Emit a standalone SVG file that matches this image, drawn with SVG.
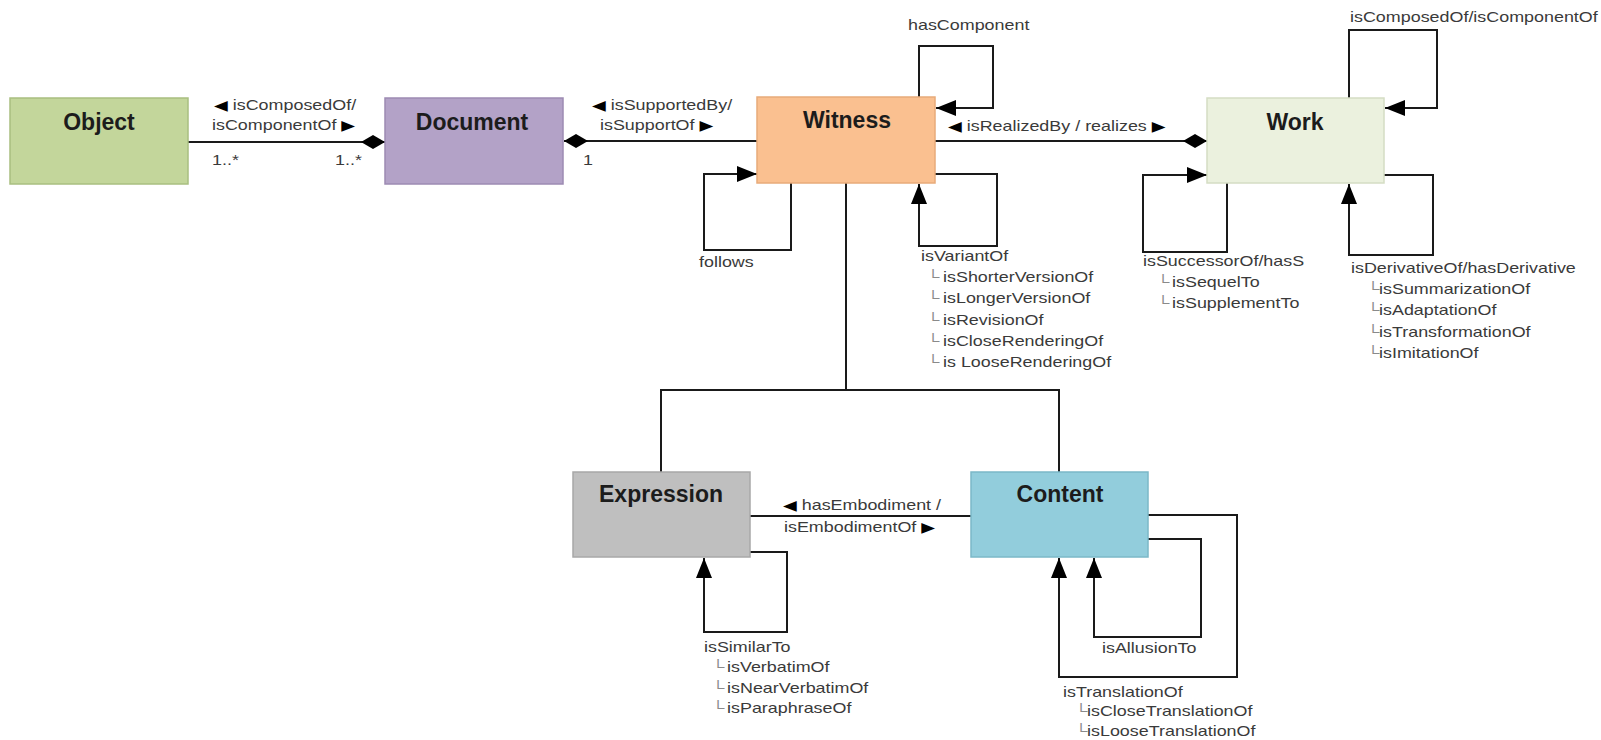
<svg xmlns="http://www.w3.org/2000/svg" width="1601" height="740" viewBox="0 0 1601 740">
<style>
.box{stroke-width:1.5}
.title{font-family:"Liberation Sans",Arial,sans-serif;font-weight:bold;font-size:23px;fill:#1c1c1c;text-anchor:middle}
.lbl{font-family:"Liberation Sans",Arial,"DejaVu Sans",sans-serif;font-size:14px;fill:#3a3a3a}
.tri{fill:#000}
.cor{fill:#8a8a8a}
.c{fill:none;stroke:#1a1a1a;stroke-width:2}
</style>
<defs>
<marker id="arr" markerUnits="userSpaceOnUse" markerWidth="22" markerHeight="18" refX="20" refY="8" orient="auto">
<path d="M0,0 L20,8 L0,16 z" fill="#000"/>
</marker>
<marker id="dia" markerUnits="userSpaceOnUse" markerWidth="26" markerHeight="16" refX="24" refY="8" orient="auto">
<path d="M0,8 L12,1 L24,8 L12,15 z" fill="#000"/>
</marker>
</defs>
<rect width="1601" height="740" fill="#fff"/>

<g id="connectors">
<path class="c" d="M188,142 H385" marker-end="url(#dia)"/>
<path class="c" d="M757,141 H564" marker-end="url(#dia)"/>
<path class="c" d="M935,141 H1207" marker-end="url(#dia)"/>
<path class="c" d="M919,97 V46 H993 V108 H936" marker-end="url(#arr)"/>
<path class="c" d="M791,183 V250 H704 V174 H757" marker-end="url(#arr)"/>
<path class="c" d="M935,174 H997 V246 H919 V184" marker-end="url(#arr)"/>
<path class="c" d="M846,183 V390"/>
<path class="c" d="M661,472 V390 H1059 V472"/>
<path class="c" d="M750,516 H971"/>
<path class="c" d="M750,552 H787 V632 H704 V558" marker-end="url(#arr)"/>
<path class="c" d="M1148,539 H1201 V637 H1094 V558" marker-end="url(#arr)"/>
<path class="c" d="M1148,515 H1237 V677 H1059 V558" marker-end="url(#arr)"/>
<path class="c" d="M1349,98 V30 H1437 V108 H1385" marker-end="url(#arr)"/>
<path class="c" d="M1227,183 V252 H1143 V175 H1207" marker-end="url(#arr)"/>
<path class="c" d="M1384,175 H1433 V255 H1349 V184" marker-end="url(#arr)"/>
</g>

<g id="object">
<rect class="box" x="10" y="98" width="178" height="86" fill="#c3d69b" stroke="#a9bf80"/>
<text class="title" x="99" y="130">Object</text>
</g>
<g id="document">
<rect class="box" x="385" y="98" width="178" height="86" fill="#b3a2c7" stroke="#9d8bb3"/>
<text class="title" x="472" y="130">Document</text>
</g>
<g id="witness">
<rect class="box" x="757" y="97" width="178" height="86" fill="#fac090" stroke="#e8ab7a"/>
<text class="title" x="847" y="128">Witness</text>
</g>
<g id="work">
<rect class="box" x="1207" y="98" width="177" height="85" fill="#ebf1de" stroke="#d5ddc4"/>
<text class="title" x="1295" y="130">Work</text>
</g>
<g id="expression">
<rect class="box" x="573" y="472" width="177" height="85" fill="#bfbfbf" stroke="#a8a8a8"/>
<text class="title" x="661" y="502">Expression</text>
</g>
<g id="content">
<rect class="box" x="971" y="472" width="177" height="85" fill="#92cddc" stroke="#7bb8c8"/>
<text class="title" x="1060" y="502">Content</text>
</g>

<g id="labels">
<text class="lbl" transform="translate(214,110) scale(1.28,1)"><tspan class="tri">◀</tspan> isComposedOf/</text>
<text class="lbl" transform="translate(212,130) scale(1.28,1)">isComponentOf <tspan class="tri">▶</tspan></text>
<text class="lbl" transform="translate(212,165) scale(1.28,1)">1..*</text>
<text class="lbl" transform="translate(335,165) scale(1.28,1)">1..*</text>
<text class="lbl" transform="translate(592,110) scale(1.28,1)"><tspan class="tri">◀</tspan> isSupportedBy/</text>
<text class="lbl" transform="translate(600,130) scale(1.28,1)">isSupportOf <tspan class="tri">▶</tspan></text>
<text class="lbl" transform="translate(583,165) scale(1.28,1)">1</text>
<text class="lbl" transform="translate(908,30) scale(1.28,1)">hasComponent</text>
<text class="lbl" transform="translate(948,131) scale(1.28,1)"><tspan class="tri">◀</tspan> isRealizedBy / realizes <tspan class="tri">▶</tspan></text>
<text class="lbl" transform="translate(1350,22) scale(1.28,1)">isComposedOf/isComponentOf</text>
<text class="lbl" transform="translate(699,267) scale(1.28,1)">follows</text>
<text class="lbl" transform="translate(921,261) scale(1.28,1)"><tspan x="0" y="0">isVariantOf</tspan><tspan class="cor" x="4.7" y="21.2">└</tspan><tspan x="17.2">isShorterVersionOf</tspan><tspan class="cor" x="4.7" y="42.4">└</tspan><tspan x="17.2">isLongerVersionOf</tspan><tspan class="cor" x="4.7" y="63.6">└</tspan><tspan x="17.2">isRevisionOf</tspan><tspan class="cor" x="4.7" y="84.8">└</tspan><tspan x="17.2">isCloseRenderingOf</tspan><tspan class="cor" x="4.7" y="106">└</tspan><tspan x="17.2">is LooseRenderingOf</tspan></text>
<text class="lbl" transform="translate(1143,266) scale(1.28,1)"><tspan x="0" y="0">isSuccessorOf/hasS</tspan><tspan class="cor" x="10.9" y="21">└</tspan><tspan x="22.7">isSequelTo</tspan><tspan class="cor" x="10.9" y="42">└</tspan><tspan x="22.7">isSupplementTo</tspan></text>
<text class="lbl" transform="translate(1351,273) scale(1.28,1)"><tspan x="0" y="0">isDerivativeOf/hasDerivative</tspan><tspan class="cor" x="12.5" y="21.2">└</tspan><tspan x="21.9">isSummarizationOf</tspan><tspan class="cor" x="12.5" y="42.4">└</tspan><tspan x="21.9">isAdaptationOf</tspan><tspan class="cor" x="12.5" y="63.6">└</tspan><tspan x="21.9">isTransformationOf</tspan><tspan class="cor" x="12.5" y="84.8">└</tspan><tspan x="21.9">isImitationOf</tspan></text>
<text class="lbl" transform="translate(783,510) scale(1.28,1)"><tspan class="tri">◀</tspan> hasEmbodiment /</text>
<text class="lbl" transform="translate(784,532) scale(1.28,1)">isEmbodimentOf <tspan class="tri">▶</tspan></text>
<text class="lbl" transform="translate(704,652) scale(1.28,1)"><tspan x="0" y="0">isSimilarTo</tspan><tspan class="cor" x="6.25" y="20.3">└</tspan><tspan x="18">isVerbatimOf</tspan><tspan class="cor" x="6.25" y="40.6">└</tspan><tspan x="18">isNearVerbatimOf</tspan><tspan class="cor" x="6.25" y="60.9">└</tspan><tspan x="18">isParaphraseOf</tspan></text>
<text class="lbl" transform="translate(1102,653) scale(1.28,1)">isAllusionTo</text>
<text class="lbl" transform="translate(1063,697) scale(1.28,1)"><tspan x="0" y="0">isTranslationOf</tspan><tspan class="cor" x="9.4" y="19.5">└</tspan><tspan x="18.75">isCloseTranslationOf</tspan><tspan class="cor" x="9.4" y="39">└</tspan><tspan x="18.75">isLooseTranslationOf</tspan></text>
</g>
</svg>
